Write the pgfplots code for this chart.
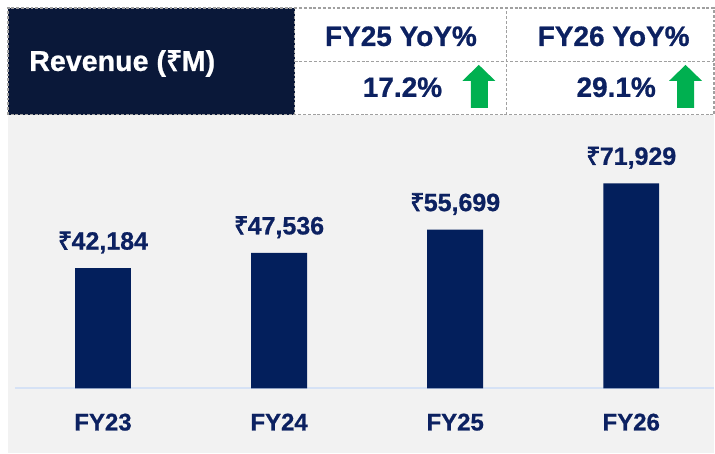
\documentclass[border=0pt]{standalone}
\usepackage{pgfplots}
\pgfplotsset{compat=1.18}
\usepackage{fontspec}
\setmainfont{Liberation Sans}[BoldFeatures={FakeBold=0.8}]
\newfontfamily\rupeefont{Noto Sans}[FakeBold=3]
\newcommand\rs{{\rupeefont\mdseries ₹}\kern-0.5pt}
\definecolor{darkbox}{HTML}{0A1839}
\definecolor{textnavy}{HTML}{0C2161}
\definecolor{barblue}{HTML}{031F5C}
\definecolor{bggray}{HTML}{F2F2F2}
\definecolor{baseblue}{HTML}{D6E2F5}
\definecolor{upgreen}{HTML}{00B050}
\definecolor{dashgray}{HTML}{A0A0A0}
\begin{document}
\begin{tikzpicture}
\begin{scope}[x=0.75pt,y=0.75pt]
\fill[white] (0,0) rectangle (715,454);
\fill[bggray] (8,0) rectangle (715,339);
\fill[darkbox] (8,339) rectangle (295,446);
\begin{scope}[dashgray, line width=0.8pt, dash pattern=on 2.2pt off 1.4pt]
\draw (8,339) rectangle (715,446);
\draw (295,339) -- (295,446);
\draw (507,339) -- (507,446);
\draw (295,392) -- (715,392);
\end{scope}
\node[anchor=base west, text=white, font=\bfseries\fontsize{21.5}{22}\selectfont, inner sep=0pt] at (29,383) {Revenue (\rs M)};
\node[anchor=base, text=textnavy, font=\bfseries\fontsize{21}{22}\selectfont, inner sep=0pt] at (401.5,408) {FY25 YoY\%};
\node[anchor=base, text=textnavy, font=\bfseries\fontsize{21}{22}\selectfont, inner sep=0pt] at (614.5,408) {FY26 YoY\%};
\node[anchor=base east, text=textnavy, font=\bfseries\fontsize{21}{22}\selectfont, inner sep=0pt] at (443,357) {17.2\%};
\node[anchor=base east, text=textnavy, font=\bfseries\fontsize{21}{22}\selectfont, inner sep=0pt] at (657,357) {29.1\%};
\fill[upgreen] (471.5,346) -- (471.5,373) -- (463,373) -- (479.5,389) -- (496,373) -- (488.5,373) -- (488.5,346) -- cycle;
\fill[upgreen] (678,346) -- (678,373) -- (670,373) -- (686.5,389) -- (703,373) -- (695,373) -- (695,346) -- cycle;
\end{scope}
\begin{axis}[
  at={(11.25pt,48.75pt)}, anchor=south west,
  scale only axis, width=525pt, height=205.5pt,
  xmin=-0.5, xmax=3.47, ymin=0, ymax=96000,
  axis y line=none,
  axis x line*=bottom,
  x axis line style={color=baseblue, line width=1.5pt, -},
  xtick={0,1,2,3},
  xticklabels={FY23,FY24,FY25,FY26},
  major tick length=0pt,
  xticklabel style={anchor=base, yshift=-31.5pt, text=textnavy, font=\bfseries\fontsize{18}{18}\selectfont},
  clip=false,
  /pgf/number format/.cd, 1000 sep={,}, assume math mode=true,
]
\addplot[ybar, fill=barblue, draw=none, bar width=42pt,
  nodes near coords={\rs\pgfmathprintnumber{\pgfplotspointmeta}},
  nodes near coords style={anchor=base, yshift=14pt, text=textnavy, font=\bfseries\fontsize{18.75}{19}\selectfont, inner sep=0pt}]
  coordinates {(0,42184) (1,47536) (2,55699) (3,71929)};
\end{axis}
\end{tikzpicture}
\end{document}
